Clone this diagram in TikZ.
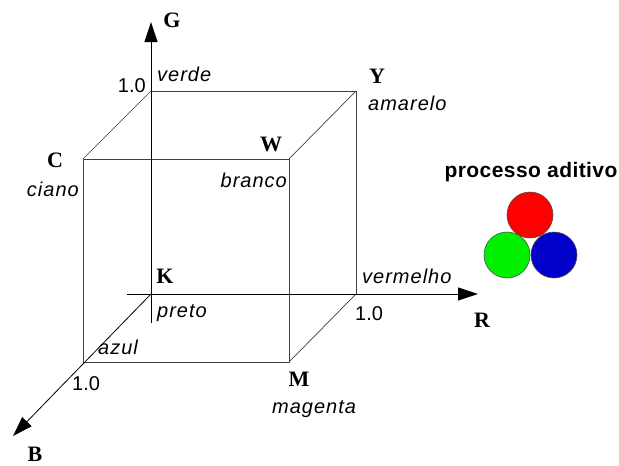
\documentclass[tikz,border=0pt]{standalone}
\usepackage{fontspec}
\setmainfont{Liberation Serif}
\setsansfont{Liberation Sans}
\newfontfamily\lblsans[LetterSpace=5]{Liberation Sans}
\newfontfamily\titlesans[LetterSpace=2]{Liberation Sans}
\usetikzlibrary{arrows.meta}

\begin{document}
\begin{tikzpicture}[x=1pt, y=-1pt,
    axis/.style={black, line width=0.8pt, -{Triangle[length=20pt, width=13pt]}},
    edge/.style={black!75, line width=0.7pt},
    axisname/.style={inner sep=0pt, anchor=base, font=\fontsize{22}{26}\selectfont\rmfamily\bfseries},
    colorname/.style={inner sep=0pt, font=\fontsize{20}{24}\selectfont\lblsans\itshape},
    tick/.style={inner sep=0pt, font=\fontsize{20}{24}\selectfont\sffamily}]
            \useasboundingbox (0,0) rectangle (619,466);

            % Cube corners
            \coordinate (K) at (151,294);
            \coordinate (Gc) at (151,91);
            \coordinate (Yc) at (356,91);
            \coordinate (Rc) at (356,294);
            \coordinate (Cc) at (83,159);
            \coordinate (Wc) at (289,159);
            \coordinate (Bc) at (83,362);
            \coordinate (Mc) at (289,362);

            % Axis ends
            \coordinate (Gstart) at (151,323);
            \coordinate (Gend) at (151,22);
            \coordinate (Rstart) at (127,294);
            \coordinate (Rend) at (478,294);
            \coordinate (Bend) at (13,436);

            % Cube edges
            \draw[edge] (Gc) -- (Yc) -- (Rc);
            \draw[edge] (Cc) -- (Wc) -- (Mc) -- (Bc) -- cycle;
            \draw[edge] (Gc) -- (Cc);
            \draw[edge] (Yc) -- (Wc);
            \draw[edge] (Rc) -- (Mc);

            % Axes
            \draw[axis] (Gstart) -- (Gend);
            \draw[axis] (Rstart) -- (Rend);
            \draw[axis] (K) -- (Bend);

            % Axis names
            \node[axisname] (G) at (172,27) {G};
            \node[axisname] (R) at (482,327) {R};
            \node[axisname] (B) at (35,461) {B};

            % Corner letters
            \node[axisname] (Y) at (377,83) {Y};
            \node[axisname] (C) at (55,167) {C};
            \node[axisname] (W) at (271,151) {W};
            \node[axisname] (Klbl) at (165,283) {K};
            \node[axisname] (M) at (299,386) {M};

            % Colour names
            \node[colorname, anchor=base west] (verde) at (157,81) {verde};
            \node[colorname, anchor=base west] (amarelo) at (368,110) {amarelo};
            \node[colorname, anchor=base east] (ciano) at (79,196) {ciano};
            \node[colorname, anchor=base east] (branco) at (287,187) {branco};
            \node[colorname, anchor=base west] (preto) at (157,317) {preto};
            \node[colorname, anchor=base west] (vermelho) at (362,283) {vermelho};
            \node[colorname, anchor=base west] (azul) at (98,354) {azul};
            \node[colorname, anchor=base west] (magenta) at (272,413) {magenta};

            % Unit ticks
            \node[tick, anchor=base east] (oneG) at (146,92) {1.0};
            \node[tick, anchor=base west] (oneR) at (355,320) {1.0};
            \node[tick, anchor=base west] (oneB) at (72,390) {1.0};

            % Additive process
            \node[inner sep=0pt, anchor=base, font=\fontsize{21}{25}\selectfont\titlesans\bfseries] (title) at (531,177) {processo aditivo};
            \node[circle, draw=black!70, line width=0.6pt, fill={rgb,255:red,255;green,0;blue,0}, minimum size=46pt, inner sep=0pt] (red) at (530,215) {};
            \node[circle, draw=black!70, line width=0.6pt, fill={rgb,255:red,0;green,240;blue,0}, minimum size=46pt, inner sep=0pt] (green) at (507,255) {};
            \node[circle, draw=black!70, line width=0.6pt, fill={rgb,255:red,0;green,0;blue,200}, minimum size=46pt, inner sep=0pt] (blue) at (554,255) {};
        \end{tikzpicture}
\end{document}
